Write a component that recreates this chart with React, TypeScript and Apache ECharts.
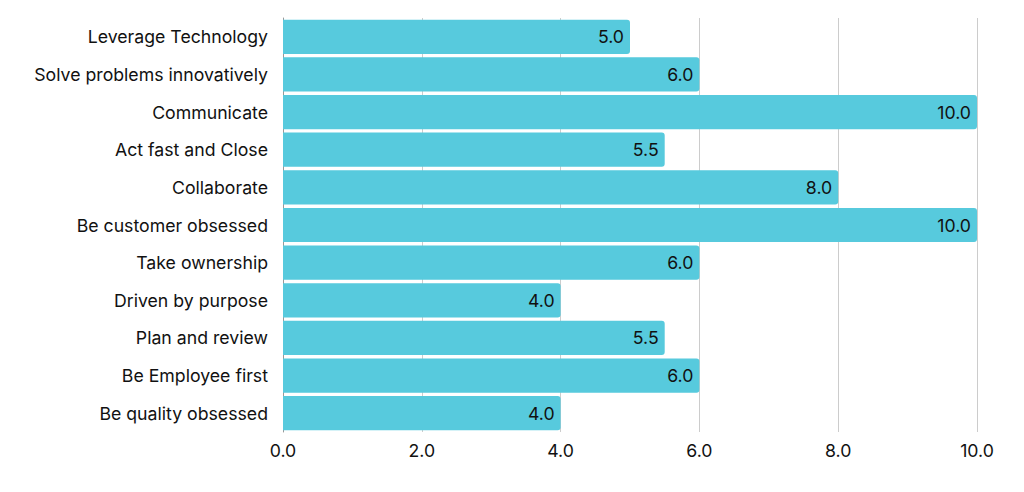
import React, { useEffect, useRef } from "react";
import * as echarts from "echarts";

const categories = [
  "Leverage Technology",
  "Solve problems innovatively",
  "Communicate",
  "Act fast and Close",
  "Collaborate",
  "Be customer obsessed",
  "Take ownership",
  "Driven by purpose",
  "Plan and review",
  "Be Employee first",
  "Be quality obsessed",
];
const values = [5, 6, 10, 5.5, 8, 10, 6, 4, 5.5, 6, 4];

export default function App() {
  const ref = useRef<HTMLDivElement>(null);
  useEffect(() => {
    document.body.style.margin = "0";
    const chart = echarts.init(ref.current!, undefined, { renderer: "svg" });
    chart.setOption({
      animation: false,
      textStyle: { fontFamily: "Inter" },
      grid: { left: 283, right: 47, top: 18, bottom: 60, containLabel: false },
      xAxis: {
        type: "value",
        min: 0,
        max: 10,
        interval: 2,
        axisLine: { show: false },
        axisTick: { show: false },
        splitLine: { show: true, lineStyle: { color: "#cccccc", width: 1 } },
        axisLabel: {
          formatter: (v: number) => v.toFixed(1),
          color: "#111",
          fontSize: 17.7,
          fontFamily: "Inter",
          margin: 9,
        },
      },
      yAxis: {
        type: "category",
        data: categories,
        inverse: true,
        axisLine: { show: true, lineStyle: { color: "#999999", width: 1 } },
        axisTick: { show: false },
        axisLabel: {
          color: "#111",
          fontSize: 17.7,
          fontFamily: "Inter",
          margin: 15,
          padding: [0, 0, 7, 0],
        },
      },
      series: [
        {
          type: "bar",
          data: values,
          barCategoryGap: "9%",
          itemStyle: { color: "#57CADD", borderRadius: [0, 3, 3, 0] },
          label: {
            show: true,
            position: "insideRight",
            formatter: (p: any) => Number(p.value).toFixed(1),
            color: "#111",
            fontSize: 17.7,
            fontFamily: "Inter",
            offset: [-1, 0],
          },
        },
      ],
    });
    return () => chart.dispose();
  }, []);
  return <div ref={ref} style={{ width: 1024, height: 492 }} />;
}
